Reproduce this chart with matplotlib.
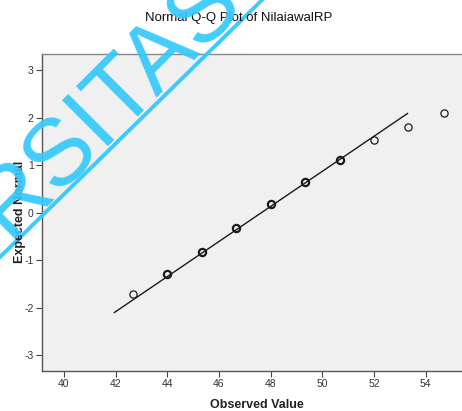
import matplotlib.pyplot as plt
import numpy as np

observed = [42.67, 44.0, 45.33, 46.67, 48.0, 49.33, 50.67, 52.0, 53.33, 54.7]
expected = [-1.70, -1.28, -0.82, -0.32, 0.18, 0.65, 1.10, 1.54, 1.80, 2.10]
# points drawn heavier (several cases on top of each other)
heavy = [False, True, True, True, True, True, True, False, False, False]

# reference line: expected = (x - mean) / sd
line_mean = 47.64
line_sd = 2.71
line_x = [41.95, 53.3]

xticks = [40, 42, 44, 46, 48, 50, 52, 54]
yticks = [-3, -2, -1, 0, 1, 2, 3]

W, H = 462, 411
fig = plt.figure(figsize=(W / 100, H / 100), dpi=100, facecolor='white')
plt.rcParams['font.family'] = ['Liberation Sans', 'DejaVu Sans']
plt.rcParams['axes.unicode_minus'] = False

# axes runs past the right edge, as in the cropped original
left, top, bottom = 42, 54, 371
right = 64 + (56 - 40) * 25.83
ax = fig.add_axes([left / W, 1 - bottom / H, (right - left) / W, (bottom - top) / H])
ax.set_facecolor('#f0f0f0')
ax.set_xlim(39.15, 56)
ax.set_ylim(-3.33, 3.34)

lx = np.array(line_x)
ax.plot(lx, (lx - line_mean) / line_sd, color='#1a1a1a', lw=1.0, zorder=2)

for x, y, h in zip(observed, expected, heavy):
    ax.plot(x, y, 'o', ms=5.2, mfc='none', mec='#1a1a1a', mew=1.6 if h else 0.9, zorder=3)

ax.set_xticks(xticks)
ax.set_yticks(yticks)
ax.tick_params(direction='out', length=4, width=0.8, color='#444444', labelsize=7.5,
               labelcolor='#333333', pad=2)
for s in ['left', 'bottom']:
    ax.spines[s].set_color('#555555')
    ax.spines[s].set_linewidth(1.0)
ax.spines['top'].set_color('#888888')
ax.spines['top'].set_linewidth(1.0)
ax.spines['right'].set_visible(False)

fig.text(239 / W, 1 - 18 / H, 'Normal Q-Q Plot of NilaiawalRP', ha='center', va='center',
         fontsize=9.5, color='#111111')
fig.text(257 / W, 1 - 405 / H, 'Observed Value', ha='center', va='center',
         fontsize=9, fontweight='bold', color='#222222')
fig.text(20 / W, 1 - 212 / H, 'Expected Normal', ha='center', va='center', rotation=90,
         fontsize=9, fontweight='bold', color='#222222')

# cyan watermark
wm = '#33c8fa'
fig.add_artist(plt.Line2D([0, 262 / W], [1 - 257 / H, 1], color=wm, lw=2.8, alpha=0.95,
                          transform=fig.transFigure))
fig.text(126 / W, 1 - 121 / H, 'RSITAS', ha='center', va='baseline', rotation=45,
         rotation_mode='anchor', fontsize=68, color=wm, alpha=0.92)

fig.savefig('out.png', dpi=100, facecolor='white')
